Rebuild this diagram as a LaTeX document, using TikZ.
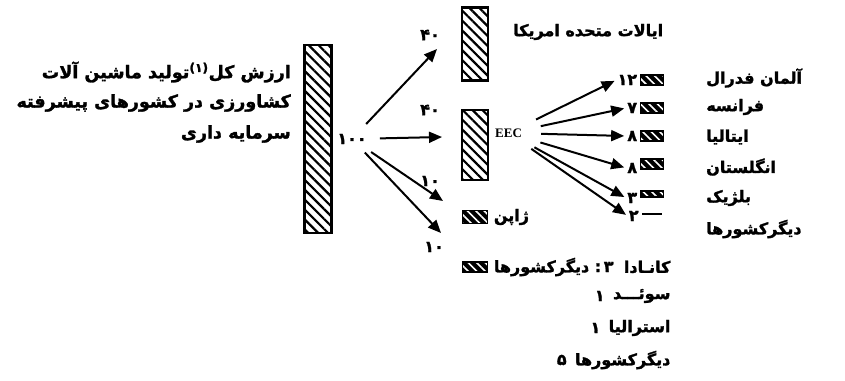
\documentclass[tikz,border=0pt]{standalone}
\usepackage{fontspec}
\setmainfont{Liberation Serif}
\newfontfamily\fa[Script=Arabic, BoldFeatures={FakeBold=1.6}]{DejaVu Sans}
\TeXXeTstate=1
\usetikzlibrary{arrows.meta,positioning,patterns.meta}
\newcommand{\rtl}[1]{\beginR #1\endR}

\begin{document}
\begin{tikzpicture}[x=1pt, y=-1pt, every node/.style={font=\fa\bfseries\fontsize{16}{19}\selectfont, inner sep=1pt}, bar/.style={draw=black, line width=2.5pt, minimum width=26pt, pattern={Lines[angle=-45,distance=7pt,line width=2.2pt]}}, sbar/.style={fill=black, inner sep=0pt, minimum width=23pt, minimum height=10pt, postaction={pattern={Lines[angle=-45,distance=6pt,line width=1.6pt]}, pattern color=white}, postaction={draw=black, line width=1.5pt}}, line/.style={-{Triangle[length=13pt,width=11pt]}, line width=2pt}]
\useasboundingbox (0,0) rectangle (845,380);

% left caption
\node[anchor=east, font=\fa\bfseries\fontsize{17.5}{19}\selectfont] (cap1) at (292,72) {\rtl{ارزش کل\textsuperscript{(۱)}تولید ماشین آلات}};
\node[anchor=east, font=\fa\bfseries\fontsize{17.5}{19}\selectfont] (cap2) at (292,103) {\rtl{کشاورزی در کشورهای پیشرفته}};
\node[anchor=east, font=\fa\bfseries\fontsize{17.5}{19}\selectfont] (cap3) at (292,134) {\rtl{سرمایه داری}};

% total
\node[bar, minimum width=27pt, minimum height=188pt] (total) at (318,139) {};
\node (hundred) at (352,139) {۱۰۰};

% first split
\node[bar, minimum height=73pt] (us) at (475,44) {};
\node[anchor=west] (uslbl) at (512,32) {\rtl{ایالات متحده امریکا}};
\node[bar, minimum height=70pt] (eec) at (475,145) {};
\node[anchor=west, font=\rmfamily\bfseries\fontsize{13}{13}\selectfont] (eeclbl) at (494,133) {EEC};
\node[sbar, minimum width=25pt, minimum height=13pt] (jp) at (475,217) {};
\node[right=5pt of jp] (jplbl) {\rtl{ژاپن}};
\node[sbar, minimum width=25pt] (oth) at (475,267) {};
\node[right=5pt of oth] (othlbl) {\rtl{دیگرکشورها}};
\node[right=3pt of othlbl] (canum) {:\,۳};
\node[right=8pt of canum] (ca) {\rtl{کانـادا}};

\coordinate (t1) at (437,49);
\coordinate (t2) at (442,137);
\coordinate (t3) at (443,201);
\coordinate (t4) at (441,233);
\node (v1) at (430,35) {۴۰};
\node (v2) at (430,110) {۴۰};
\node (v3) at (430,181) {۱۰};
\node (v4) at (434,247) {۱۰};
\draw[line, shorten <=12pt] (hundred) -- (t1);
\draw[line, shorten <=12pt] (hundred) -- (t2);
\draw[line, shorten <=12pt] (hundred) -- (t3);
\draw[line, shorten <=10pt] (hundred) -- (t4);

% EEC members
\node[sbar] (b1) at (652,80) {};
\node[sbar] (b2) at (652,108) {};
\node[sbar] (b3) at (652,136) {};
\node[sbar] (b4) at (652,164) {};
\node[sbar, minimum height=6pt] (b5) at (652,194) {};
\node[fill=black, inner sep=0pt, minimum width=20pt, minimum height=2pt] (b6) at (652,214) {};
\node[left=2pt of b1] (n1) {۱۲};
\node[left=2pt of b2] (n2) {۷};
\node[left=2pt of b3] (n3) {۸};
\node[left=2pt of b4, yshift=-4pt] (n4) {۸};
\node[left=2pt of b5, yshift=-4pt] (n5) {۳};
\node[left=2pt of b6, yshift=-2pt] (n6) {۲};
\foreach \i in {1,...,6}
  \draw[line, shorten <=18pt, shorten >=2pt] (eeclbl) -- (n\i.west);
\node[anchor=west] (de) at (705,78) {\rtl{آلمان فدرال}};
\node[anchor=west] (fr) at (705,107) {\rtl{فرانسه}};
\node[anchor=west] (it) at (705,137) {\rtl{ایتالیا}};
\node[anchor=west] (uk) at (705,167) {\rtl{انگلستان}};
\node[anchor=west] (be) at (705,198) {\rtl{بلژیک}};
\node[anchor=west] (ot) at (705,229) {\rtl{دیگرکشورها}};

% other countries
\node[anchor=east] (se) at (ca.east |- 0,296) {\rtl{سوئـــد}};
\node[anchor=east] (au) at (ca.east |- 0,328) {\rtl{استرالیا}};
\node[anchor=east] (rest) at (ca.east |- 0,360) {\rtl{دیگرکشورها}};
\node[left=6pt of se] (senum) {۱};
\node[left=6pt of au] (aunum) {۱};
\node[left=6pt of rest] (restnum) {۵};
\end{tikzpicture}
\end{document}
